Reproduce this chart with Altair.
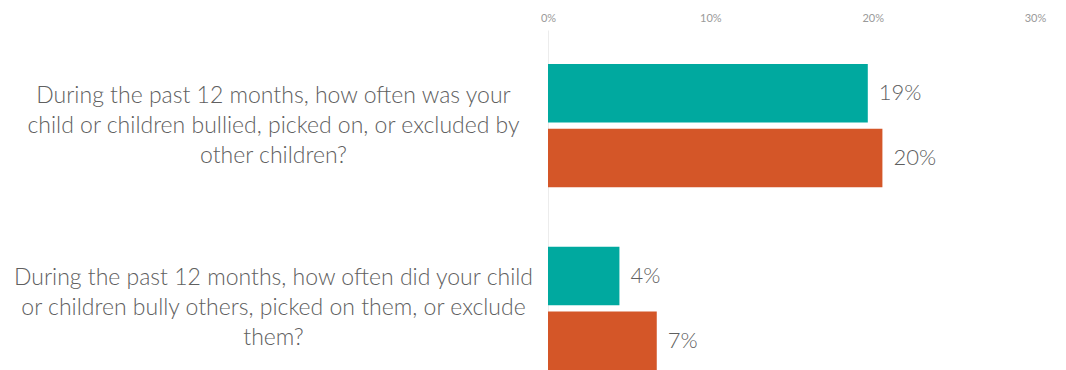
import altair as alt
import pandas as pd

questions = [
    "During the past 12 months, how often was your|child or children bullied, picked on, or excluded by|other children?",
    "During the past 12 months, how often did your child|or children bully others, picked on them, or exclude|them?",
]
series = ["Series 1", "Series 2"]
values_s1 = [19.7, 4.4]
values_s2 = [20.6, 6.7]
labels_s1 = ["19%", "4%"]
labels_s2 = ["20%", "7%"]
ticks = [0, 10, 20, 30]
colors = ["#00A99F", "#D45628"]

rows = []
for i, q in enumerate(questions):
    rows.append({"q": q, "s": series[0], "v": values_s1[i], "lab": labels_s1[i]})
    rows.append({"q": q, "s": series[1], "v": values_s2[i], "lab": labels_s2[i]})
df = pd.DataFrame(rows)

FONT = "Lato"

y = alt.Y(
    "q:N",
    sort=questions,
    scale=alt.Scale(paddingInner=0.326, paddingOuter=0.186),
    axis=alt.Axis(
        title=None,
        labelExpr="split(datum.value, '|')",
        labelAlign="center",
        labelBaseline="middle",
        labelPadding=275,
        labelOffset=-30,
        labelFontSize=23,
        labelFontWeight=300,
        labelLineHeight=30,
        labelColor="#606060",
        labelFont=FONT,
        labelLimit=600,
        ticks=False,
        domain=True,
        domainColor="#ececec",
        domainWidth=1,
    ),
)
yoff = alt.YOffset("s:N", sort=series, scale=alt.Scale(paddingInner=0.095))
x = alt.X(
    "v:Q",
    scale=alt.Scale(domain=[0, 30], nice=False),
    axis=alt.Axis(
        orient="top",
        values=ticks,
        labelExpr="datum.value + '%'",
        title=None,
        grid=False,
        ticks=False,
        domain=False,
        labelFontSize=11,
        labelColor="#9a9a9a",
        labelFont=FONT,
        labelPadding=7,
        labelFlush=False,
    ),
)

bars = alt.Chart(df).mark_bar().encode(
    x=x,
    y=y,
    yOffset=yoff,
    color=alt.Color("s:N", scale=alt.Scale(domain=series, range=colors), legend=None),
)
text = alt.Chart(df).mark_text(
    align="left", baseline="middle", dx=11, fontSize=22, fontWeight=300,
    color="#5f5f5f", font=FONT
).encode(x="v:Q", y=alt.Y("q:N", sort=questions), yOffset=yoff, text="lab:N")

chart = (
    alt.layer(bars, text)
    .properties(
        width=487,
        height=374,
        autosize=alt.AutoSizeParams(type="none"),
        padding={"left": 540, "top": 22, "right": 20, "bottom": 0},
    )
    .configure(background="white")
    .configure_view(stroke="transparent", strokeWidth=0)
)

chart.save("out.html", embed_options={"renderer": "svg", "actions": False})
